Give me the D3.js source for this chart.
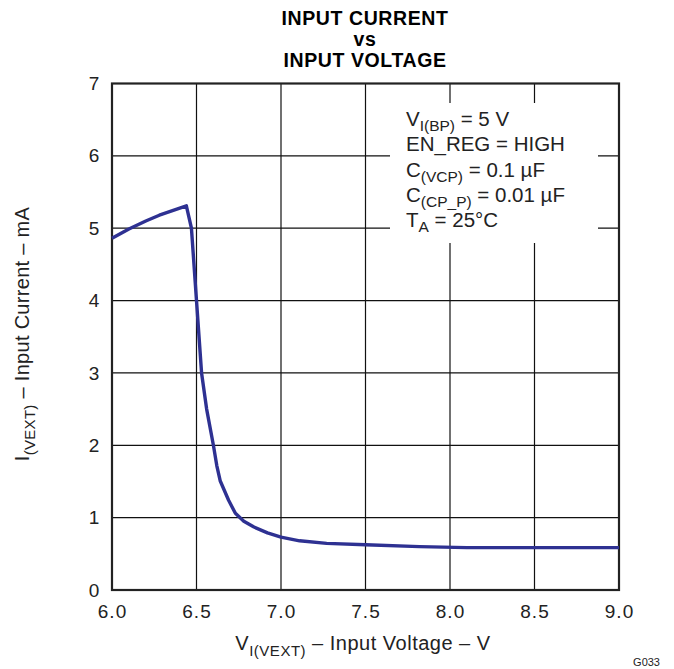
<!DOCTYPE html>
<html lang="en">
<head>
<meta charset="utf-8">
<title>Input Current vs Input Voltage</title>
<script src="https://cdnjs.cloudflare.com/ajax/libs/d3/7.8.5/d3.min.js"></script>
<style>
  body { margin: 0; background: #fff; font-family: 'Liberation Sans', Arial, sans-serif; }
  svg { display: block; }
  .tick text { font-size: 19px; fill: #222; font-family: 'Liberation Sans', Arial, sans-serif; }
  .x-axis .tick text { letter-spacing: 1px; }
  .domain { display: none; }
</style>
</head>
<body>
<svg width="674" height="669"></svg>
<script>
// data
var voltage = [6.00, 6.10, 6.20, 6.28, 6.44, 6.47, 6.50, 6.53, 6.56, 6.60, 6.62, 6.64, 6.69,
               6.73, 6.78, 6.84, 6.92, 7.00, 7.11, 7.27, 7.50, 7.82, 8.10, 8.50, 9.00];
var current = [4.86, 4.99, 5.10, 5.18, 5.31, 5.00, 4.00, 3.00, 2.50, 2.00, 1.72, 1.51, 1.24,
               1.06, 0.95, 0.87, 0.79, 0.73, 0.68, 0.645, 0.625, 0.60, 0.585, 0.585, 0.585];

var xTicks = [6.0, 6.5, 7.0, 7.5, 8.0, 8.5, 9.0];
var yTicks = [0, 1, 2, 3, 4, 5, 6, 7];

var titleLines = ["INPUT CURRENT", "vs", "INPUT VOLTAGE"];
var notes = [
  [["V", ""], ["I(BP)", "sub"], [" = 5 V", ""]],
  [["EN_REG = HIGH", ""]],
  [["C", ""], ["(VCP)", "sub"], [" = 0.1 \u00b5F", ""]],
  [["C", ""], ["(CP_P)", "sub"], [" = 0.01 \u00b5F", ""]],
  [["T", ""], ["A", "sub"], [" = 25\u00b0C", ""]]
];

var data = voltage.map(function(v, i) { return { v: v, i: current[i] }; });

var plot = { left: 112, right: 619, top: 83.5, bottom: 590 };

var svg = d3.select("svg");

var x = d3.scaleLinear().domain([6, 9]).range([plot.left, plot.right]);
var y = d3.scaleLinear().domain([0, 7]).range([plot.bottom, plot.top]);

// grid
svg.append("g")
  .selectAll("line")
  .data(xTicks.slice(1, -1))
  .enter().append("line")
    .attr("x1", d => x(d)).attr("x2", d => x(d))
    .attr("y1", plot.top).attr("y2", plot.bottom)
    .attr("stroke", "#111").attr("stroke-width", 1.2);

svg.append("g")
  .selectAll("line")
  .data(yTicks.slice(1, -1))
  .enter().append("line")
    .attr("x1", plot.left).attr("x2", plot.right)
    .attr("y1", d => y(d)).attr("y2", d => y(d))
    .attr("stroke", "#111").attr("stroke-width", 1.2);

// white box behind the conditions
svg.append("rect")
  .attr("x", 390).attr("y", 103)
  .attr("width", 208).attr("height", 140)
  .attr("fill", "#fff");

// axes (labels only)
svg.append("g")
  .attr("class", "x-axis")
  .attr("transform", "translate(0," + plot.bottom + ")")
  .call(d3.axisBottom(x).tickValues(xTicks).tickFormat(d3.format(".1f")).tickSize(0).tickPadding(14.5));

svg.append("g")
  .attr("transform", "translate(" + plot.left + ",0)")
  .call(d3.axisLeft(y).tickValues(yTicks).tickFormat(d3.format("d")).tickSize(0).tickPadding(12.7));

// frame
svg.append("rect")
  .attr("x", plot.left).attr("y", plot.top)
  .attr("width", plot.right - plot.left).attr("height", plot.bottom - plot.top)
  .attr("fill", "none").attr("stroke", "#222").attr("stroke-width", 2.2);

// curve
var line = d3.line()
  .x(d => x(d.v))
  .y(d => y(d.i));

svg.append("path")
  .datum(data)
  .attr("d", line)
  .attr("fill", "none")
  .attr("stroke", "#2e3192")
  .attr("stroke-width", 3.4)
  .attr("stroke-linejoin", "round");

// title
svg.append("g")
  .selectAll("text")
  .data(titleLines)
  .enter().append("text")
    .attr("x", 365)
    .attr("y", (d, i) => 25 + i * 21)
    .attr("text-anchor", "middle")
    .style("font-weight", "bold")
    .style("font-size", "19.5px")
    .style("letter-spacing", "0.6px")
    .text(d => d);

// conditions, with subscripts
svg.append("g")
  .selectAll("text")
  .data(notes)
  .enter().append("text")
    .attr("x", 406)
    .attr("y", (d, i) => 126 + i * 25.3)
    .style("font-size", "20.5px")
    .style("fill", "#222")
  .each(function(parts) {
    var t = d3.select(this);
    parts.forEach(function(p, k) {
      var isSub = p[1] === "sub";
      var prevSub = k > 0 && parts[k - 1][1] === "sub";
      t.append("tspan")
        .attr("dy", isSub ? 5 : (prevSub ? -5 : 0))
        .style("font-size", isSub ? "15.5px" : "20.5px")
        .text(p[0]);
    });
  });

// axis titles
var xt = svg.append("text")
  .attr("x", 363).attr("y", 650)
  .attr("text-anchor", "middle")
  .style("font-size", "20px").style("fill", "#222")
  .style("letter-spacing", "0.5px");
xt.append("tspan").text("V");
xt.append("tspan").attr("dy", 6).style("font-size", "15px").text("I(VEXT)");
xt.append("tspan").attr("dy", -6).text(" \u2013 Input Voltage \u2013 V");

var yt = svg.append("text")
  .attr("transform", "translate(28.5,334) rotate(-90)")
  .attr("text-anchor", "middle")
  .style("font-size", "20px").style("fill", "#222")
  .style("letter-spacing", "0.3px");
yt.append("tspan").text("I");
yt.append("tspan").attr("dy", 6).style("font-size", "15px").text("(VEXT)");
yt.append("tspan").attr("dy", -6).text(" \u2013 Input Current \u2013 mA");

svg.append("text")
  .attr("x", 660).attr("y", 666)
  .attr("text-anchor", "end")
  .style("font-size", "11px").style("fill", "#222")
  .text("G033");
</script>
</body>
</html>
